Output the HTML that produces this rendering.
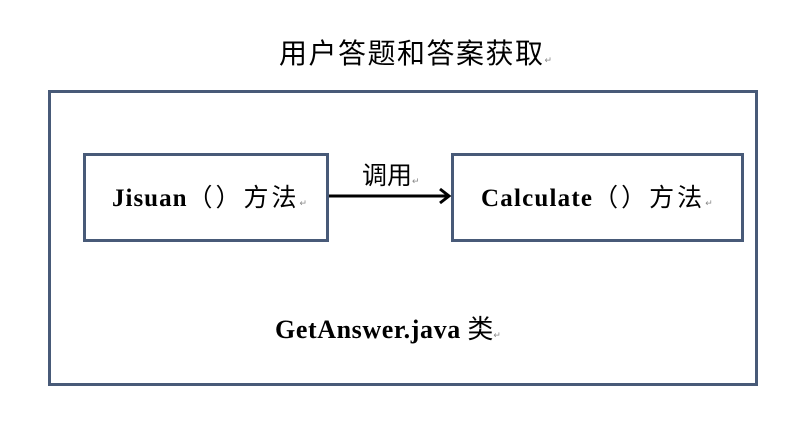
<!DOCTYPE html>
<html><head><meta charset="utf-8"><style>
body{margin:0;width:810px;height:434px;background:#fff;position:relative;overflow:hidden;font-family:"Liberation Serif","Noto Serif CJK SC",serif;}
.b{position:absolute;border:3px solid #485a78;box-sizing:border-box;}
.t{position:absolute;white-space:nowrap;color:#000;}
.m{font-size:9px;color:#888;font-weight:normal;letter-spacing:0;}
.c{font-family:'Noto Sans CJK SC',sans-serif;font-weight:normal;}
</style></head><body>
<div class="t" style="left:279px;top:32px;font-size:28px;letter-spacing:1.5px;font-family:'Noto Sans CJK SC',sans-serif;">用户答题和答案获取<span class="m">↵</span></div>
<div class="b" style="left:48px;top:90px;width:710px;height:296px;"></div>
<div class="b" style="left:83px;top:153px;width:246px;height:89px;"></div>
<div class="b" style="left:451px;top:153px;width:293px;height:89px;"></div>
<div class="t" style="left:112px;top:178px;font-size:25px;font-weight:bold;"><span style="letter-spacing:1px">Jisuan</span><span class="c" style="letter-spacing:3px">（）方法</span><span class="m">↵</span></div>
<div class="t" style="left:481px;top:178px;font-size:25px;font-weight:bold;"><span style="letter-spacing:1.2px">Calculate</span><span class="c" style="letter-spacing:3px">（）方法</span><span class="m">↵</span></div>
<div class="t" style="left:362px;top:156px;font-size:25px;font-family:'Noto Sans CJK SC',sans-serif;">调用<span class="m">↵</span></div>
<svg style="position:absolute;left:0;top:0" width="810" height="434">
<line x1="329" y1="196" x2="448" y2="196" stroke="#000" stroke-width="3"/>
<polyline points="440,189 449,196 440,203" fill="none" stroke="#000" stroke-width="3"/>
</svg>
<div class="t" style="left:275px;top:309px;font-size:26px;font-weight:bold;"><span style="letter-spacing:0.6px">GetAnswer.java</span> <span class="c">类</span><span class="m">↵</span></div>
</body></html>
